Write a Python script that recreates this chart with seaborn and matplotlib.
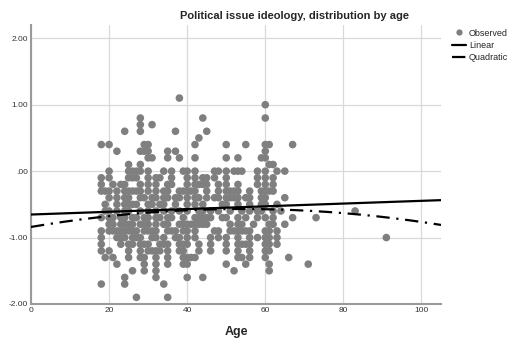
import matplotlib
matplotlib.use("Agg")
import matplotlib.pyplot as plt
import numpy as np
import pandas as pd
import seaborn as sns
from matplotlib.lines import Line2D

# ====== DATA ======
# ideology score levels (0.1 steps) and the ages observed at each level
LEVELS = [1.1, 1.0, 0.8, 0.7, 0.6, 0.5, 0.4, 0.3, 0.2, 0.1, 0.0,
          -0.1, -0.2, -0.3, -0.4, -0.5, -0.6, -0.7, -0.8, -0.9, -1.0,
          -1.1, -1.2, -1.3, -1.4, -1.5, -1.6, -1.7, -1.9]
AGES_AT_LEVEL = [
    [38],
    [60],
    [28, 44, 60],
    [28, 31],
    [24, 28, 37, 45],
    [43],
    [18, 20, 29, 30, 42, 50, 55, 60, 61, 67],
    [22, 28, 29, 30, 35, 37, 60],
    [30, 31, 35, 38, 42, 50, 53, 59, 60],
    [25, 28, 61, 62],
    [20, 25, 26, 27, 28, 30, 34, 36, 39, 40, 42, 47, 48, 50, 52, 53, 54, 58, 60, 63, 65],
    [18, 20, 25, 26, 27, 30, 32, 33, 36, 40, 42, 44, 45, 47, 50, 58, 60, 62],
    [18, 21, 23, 24, 28, 30, 32, 35, 36, 40, 42, 43, 44, 45, 48, 50, 53, 58, 60, 62],
    [18, 19, 20, 22, 24, 25, 26, 27, 28, 30, 32, 34, 35, 38, 39, 40, 41, 42, 45,
     48, 50, 51, 52, 53, 56, 59, 60, 61, 62],
    [20, 22, 24, 25, 28, 29, 31, 32, 34, 35, 37, 38, 40, 42, 43, 45, 47, 48, 50,
     51, 52, 53, 55, 56, 59, 60, 65],
    [19, 22, 24, 25, 26, 27, 30, 31, 33, 34, 37, 40, 42, 44, 49, 50, 53, 56, 59, 60, 63],
    [19, 20, 22, 24, 25, 28, 30, 32, 34, 36, 38, 40, 43, 44, 46, 48, 51, 54, 56,
     58, 59, 62, 64, 83],
    [18, 20, 21, 23, 24, 26, 27, 29, 30, 32, 33, 35, 36, 39, 42, 43, 44, 45, 46,
     49, 50, 53, 55, 58, 60, 62, 67, 73],
    [20, 21, 23, 24, 25, 26, 28, 29, 30, 32, 34, 35, 38, 39, 40, 41, 42, 43, 44,
     45, 51, 53, 54, 57, 61, 62, 65],
    [18, 20, 21, 22, 23, 24, 25, 26, 27, 29, 30, 31, 32, 35, 36, 37, 39, 40, 42,
     47, 48, 51, 52, 53, 54, 55, 56, 60, 61, 63],
    [18, 22, 23, 24, 26, 27, 28, 31, 32, 34, 37, 38, 40, 42, 46, 48, 50, 53, 56,
     58, 60, 61, 63, 91],
    [18, 23, 25, 26, 28, 29, 30, 33, 34, 35, 38, 39, 40, 43, 46, 50, 53, 54, 55,
     56, 60, 61, 63],
    [18, 20, 25, 28, 30, 31, 32, 33, 35, 38, 39, 43, 46, 50, 53, 56, 60, 61],
    [19, 21, 25, 28, 29, 32, 35, 39, 40, 41, 42, 53, 54, 56, 60, 66],
    [22, 29, 32, 35, 39, 40, 50, 55, 61, 71],
    [26, 29, 32, 52, 61],
    [24, 32, 40, 44],
    [18, 24, 34],
    [27, 35],
]
# fitted curves: intercept, slope (, quadratic term)
LINEAR_COEF = [-0.653, 0.00206]
QUAD_COEF = [-0.84, 0.0100, -0.0000925]
X_TICKS = [0, 20, 40, 60, 80, 100]
Y_TICKS = [-2.0, -1.0, 0.0, 1.0, 2.0]
Y_TICK_LABELS = ["-2.00", "-1.00", ".00", "1.00", "2.00"]
# =======================================

obs = pd.DataFrame(
    [(a, v) for v, ages in zip(LEVELS, AGES_AT_LEVEL) for a in ages],
    columns=["Age", "Ideology"],
)

xs = np.linspace(0, 105, 200)
fits = pd.DataFrame({
    "Age": xs,
    "Linear": LINEAR_COEF[0] + LINEAR_COEF[1] * xs,
    "Quadratic": QUAD_COEF[0] + QUAD_COEF[1] * xs + QUAD_COEF[2] * xs ** 2,
})

sns.set_style("white")
plt.rcParams["font.family"] = ["Liberation Sans", "DejaVu Sans"]

fig = plt.figure(figsize=(5.17, 3.46), dpi=100)
ax = fig.add_axes([31 / 517, 42 / 346, 410 / 517, 279 / 346])

sns.scatterplot(data=obs, x="Age", y="Ideology", ax=ax, color="#7f7f7f",
                s=30, edgecolor="none", zorder=3, legend=False)
sns.lineplot(data=fits, x="Age", y="Linear", ax=ax, color="black",
             lw=1.6, zorder=4)
sns.lineplot(data=fits, x="Age", y="Quadratic", ax=ax, color="black",
             lw=1.6, zorder=4, linestyle=(0, (6, 3, 1, 3)))

ax.set_xlim(0, 105)
ax.set_ylim(-2.0, 2.2)
ax.set_xticks(X_TICKS)
ax.set_yticks(Y_TICKS)
ax.set_yticklabels(Y_TICK_LABELS)
ax.grid(True, color="#d9d9d9", lw=0.9)
ax.set_axisbelow(True)
for side in ["top", "right"]:
    ax.spines[side].set_visible(False)
for side in ["left", "bottom"]:
    ax.spines[side].set_color("#9a9a9a")
    ax.spines[side].set_linewidth(1.5)
ax.tick_params(axis="both", labelsize=6, colors="#333333", length=0, pad=2)
ax.set_xlabel("Age", fontsize=9, fontweight="bold", labelpad=9)
ax.set_ylabel("")

fig.text(295 / 517, 1 - 16 / 346, "Political issue ideology, distribution by age",
         ha="center", va="center", fontsize=8, fontweight="bold")

handles = [
    Line2D([], [], ls="none", marker="o", color="#7f7f7f", markersize=4.5,
           markeredgecolor="none"),
    Line2D([], [], color="black", lw=1.6),
    Line2D([], [], color="black", lw=1.6, linestyle=(0, (6, 3, 1, 3))),
]
fig.legend(handles, ["Observed", "Linear", "Quadratic"], loc="upper left",
           bbox_to_anchor=(448 / 517, 1 - 25 / 346), frameon=False,
           fontsize=6.5, handlelength=1.6, handletextpad=0.3,
           labelspacing=0.35, borderaxespad=0)

fig.savefig("out.png", dpi=100)
